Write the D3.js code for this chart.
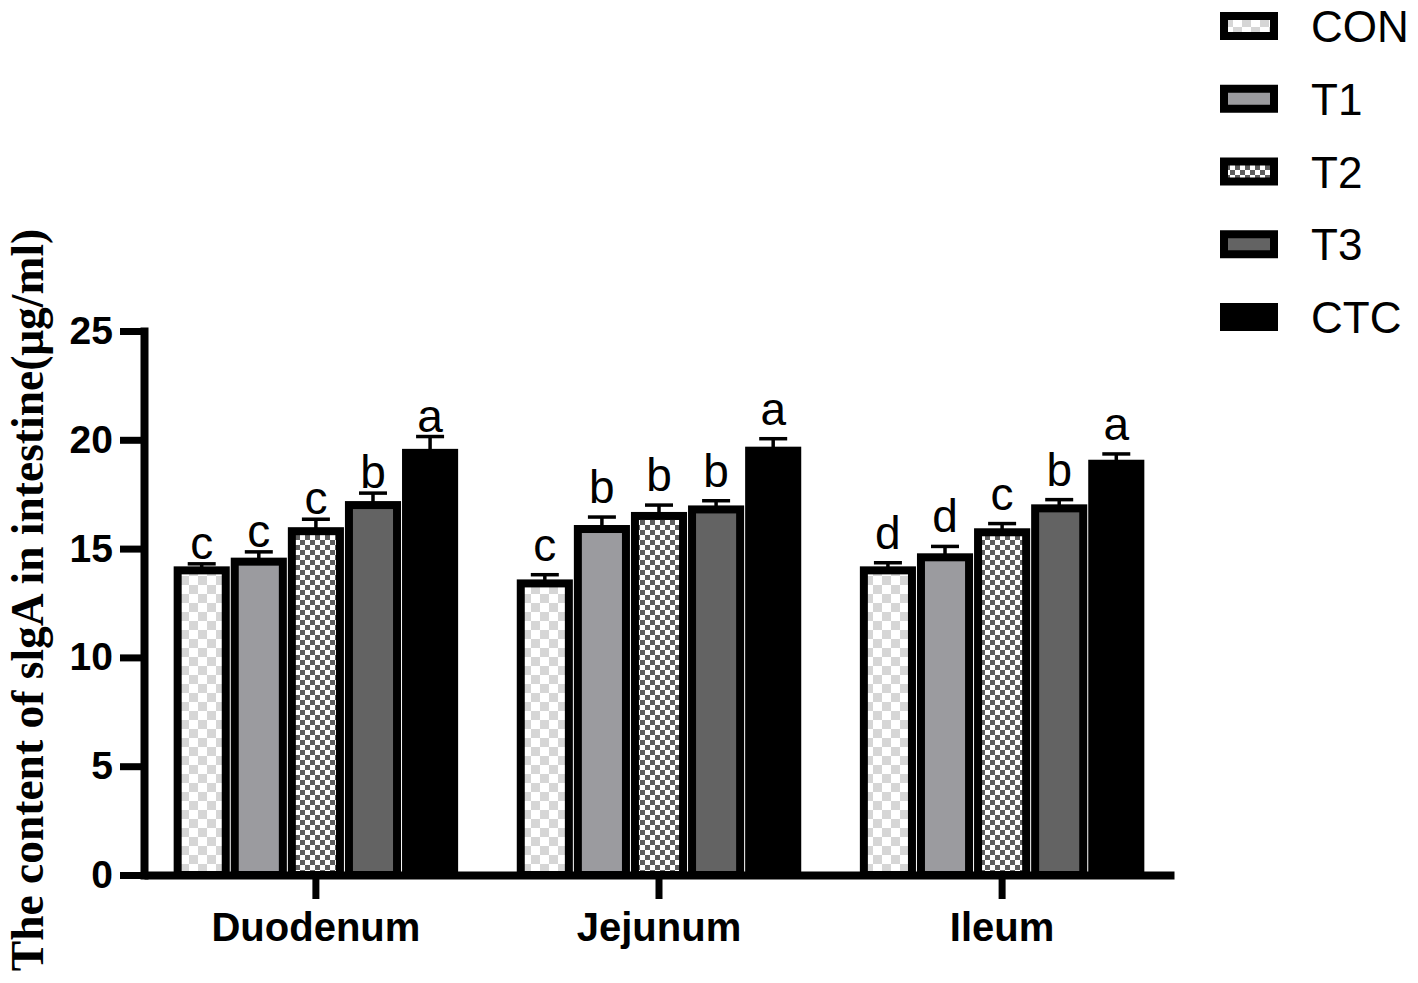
<!DOCTYPE html>
<html>
<head>
<meta charset="utf-8">
<script src="https://cdnjs.cloudflare.com/ajax/libs/d3/7.8.5/d3.min.js"></script>
<style>
  body { margin: 0; background: #fff; }
  svg { display: block; }
</style>
</head>
<body>
<div id="chart"></div>
<script>
// groups on the x axis and treatments
const groups = ["Duodenum", "Jejunum", "Ileum"];
const series = ["CON", "T1", "T2", "T3", "CTC"];

// means per treatment (Duodenum, Jejunum, Ileum)
const meanCON = [14.0, 13.4, 14.0];
const meanT1  = [14.4, 15.9, 14.6];
const meanT2  = [15.8, 16.5, 15.75];
const meanT3  = [17.0, 16.8, 16.85];
const meanCTC = [19.4, 19.5, 18.9];

// standard errors
const errCON = [0.3, 0.4, 0.35];
const errT1  = [0.45, 0.55, 0.5];
const errT2  = [0.55, 0.5, 0.4];
const errT3  = [0.55, 0.4, 0.4];
const errCTC = [0.75, 0.55, 0.45];

// significance letters
const sigCON = ["c", "c", "d"];
const sigT1  = ["c", "b", "d"];
const sigT2  = ["c", "b", "c"];
const sigT3  = ["b", "b", "b"];
const sigCTC = ["a", "a", "a"];

const yTicks = [0, 5, 10, 15, 20, 25];
const yTitle = "The content of slgA in intestine(\u03bcg/ml)";

const means = {CON: meanCON, T1: meanT1, T2: meanT2, T3: meanT3, CTC: meanCTC};
const errs = {CON: errCON, T1: errT1, T2: errT2, T3: errT3, CTC: errCTC};
const sigs = {CON: sigCON, T1: sigT1, T2: sigT2, T3: sigT3, CTC: sigCTC};

const rows = [];
groups.forEach((g, gi) => {
  series.forEach(s => {
    rows.push({group: g, series: s, value: means[s][gi], err: errs[s][gi], sig: sigs[s][gi]});
  });
});

const width = 1418, height = 983;
const fills = {CON: "url(#patCON)", T1: "#9b9b9f", T2: "url(#patT2)", T3: "#636363", CTC: "#000"};
// letters sit a bit lower above the caps in the second and third group
const labelLift = {Duodenum: 5, Jejunum: 14, Ileum: 14};

const svg = d3.select("#chart").append("svg")
  .attr("width", width)
  .attr("height", height);

const defs = svg.append("defs");
const p1 = defs.append("pattern").attr("id", "patCON")
  .attr("patternUnits", "userSpaceOnUse").attr("width", 18).attr("height", 18);
p1.append("rect").attr("width", 18).attr("height", 18).attr("fill", "#fff");
p1.append("rect").attr("width", 9).attr("height", 9).attr("fill", "#d6d6d6");
p1.append("rect").attr("x", 9).attr("y", 9).attr("width", 9).attr("height", 9).attr("fill", "#d6d6d6");

const p2 = defs.append("pattern").attr("id", "patT2")
  .attr("patternUnits", "userSpaceOnUse").attr("width", 10).attr("height", 10);
p2.append("rect").attr("width", 10).attr("height", 10).attr("fill", "#fff");
p2.append("rect").attr("width", 5).attr("height", 5).attr("fill", "#5e5e5e");
p2.append("rect").attr("x", 5).attr("y", 5).attr("width", 5).attr("height", 5).attr("fill", "#5e5e5e");

const y = d3.scaleLinear().domain([0, 25]).range([875, 331]);

const x0 = d3.scaleBand()
  .domain(groups)
  .range([144, 1174])
  .paddingInner(0.168)
  .paddingOuter(0.085);

const x1 = d3.scaleBand()
  .domain(series)
  .range([0, x0.bandwidth()]);

// bars
const bars = svg.append("g");
bars.selectAll("rect")
  .data(rows)
  .enter()
  .append("rect")
  .attr("x", d => x0(d.group) + x1(d.series) + 4.5)
  .attr("y", d => y(d.value))
  .attr("width", x1.bandwidth() - 9)
  .attr("height", d => y(0) - y(d.value))
  .attr("fill", d => fills[d.series])
  .attr("stroke", "#000")
  .attr("stroke-width", 8);

// error bars
const eb = svg.append("g").attr("stroke", "#000").attr("stroke-width", 3.5);
rows.forEach(d => {
  const cx = x0(d.group) + x1(d.series) + x1.bandwidth() / 2;
  eb.append("line")
    .attr("x1", cx).attr("x2", cx)
    .attr("y1", y(d.value)).attr("y2", y(d.value + d.err));
  eb.append("line")
    .attr("x1", cx - 14).attr("x2", cx + 14)
    .attr("y1", y(d.value + d.err)).attr("y2", y(d.value + d.err));
});

// letters
svg.append("g").selectAll("text")
  .data(rows)
  .enter()
  .append("text")
  .attr("x", d => x0(d.group) + x1(d.series) + x1.bandwidth() / 2)
  .attr("y", d => y(d.value + d.err) - labelLift[d.group])
  .attr("text-anchor", "middle")
  .style("font-family", "'Liberation Sans', Arial, sans-serif")
  .style("font-size", "46px")
  .text(d => d.sig);

// x axis
const xAxis = svg.append("g")
  .attr("transform", `translate(0, ${y(0)})`)
  .call(d3.axisBottom(x0).tickSize(24).tickSizeOuter(0).tickPadding(14));
xAxis.select(".domain").attr("stroke-width", 8).attr("stroke-linecap", "butt");
xAxis.selectAll(".tick line").attr("stroke-width", 7);
xAxis.selectAll(".tick text")
  .style("font-family", "'Liberation Sans', Arial, sans-serif")
  .style("font-weight", "bold")
  .style("font-size", "40px")
  .attr("fill", "#000");

// y axis
const yAxis = svg.append("g")
  .attr("transform", "translate(144, 0)")
  .call(d3.axisLeft(y).tickValues(yTicks).tickSize(24).tickSizeOuter(0).tickPadding(7));
yAxis.select(".domain").attr("stroke-width", 8).attr("stroke-linecap", "square");
yAxis.selectAll(".tick line").attr("stroke-width", 7);
yAxis.selectAll(".tick text")
  .style("font-family", "'Liberation Sans', Arial, sans-serif")
  .style("font-weight", "bold")
  .style("font-size", "39px")
  .attr("fill", "#000");

svg.append("text")
  .attr("transform", "translate(43, 600) rotate(-90)")
  .attr("text-anchor", "middle")
  .style("font-family", "'Liberation Serif', 'Times New Roman', serif")
  .style("font-weight", "bold")
  .style("font-size", "45.5px")
  .text(yTitle);

// legend
const legend = svg.append("g");
series.forEach((s, i) => {
  const cy = 26 + i * 72.75;
  legend.append("rect")
    .attr("x", 1224).attr("y", cy - 10)
    .attr("width", 50).attr("height", 20)
    .attr("fill", fills[s])
    .attr("stroke", "#000")
    .attr("stroke-width", 8);
  legend.append("text")
    .attr("x", 1311).attr("y", cy + 16)
    .style("font-family", "'Liberation Sans', Arial, sans-serif")
    .style("font-size", "44px")
    .text(s);
});
</script>
</body>
</html>
